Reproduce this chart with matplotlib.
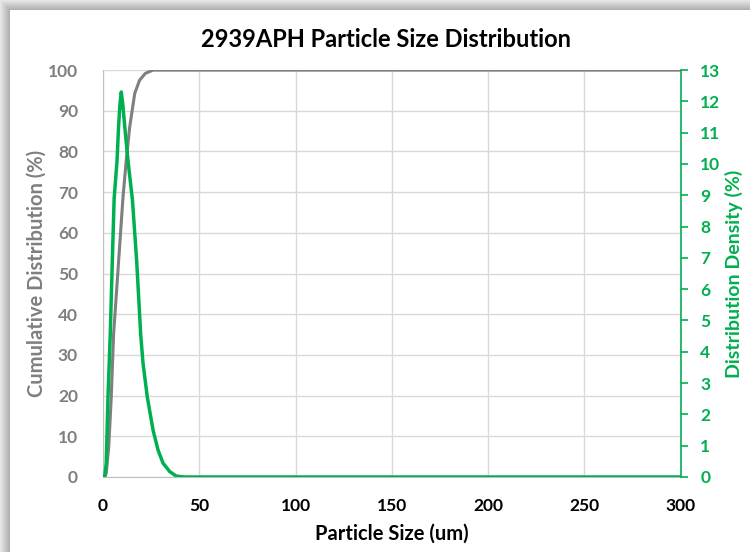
import numpy as np
import matplotlib
matplotlib.use("Agg")
import matplotlib.pyplot as plt
from matplotlib.patches import Rectangle

# ---- data ----
size_cum = [0, 1.0, 1.7, 3.0, 4.3, 5.5, 8.1, 10.4, 12.1, 13.9, 16.5, 19.0, 22.0, 26.0, 30.0, 300]
cumulative = [0, 0, 1.0, 7.4, 19.7, 34.9, 52.9, 68.8, 77.9, 86.1, 94.3, 97.5, 99.2, 100, 100, 100]

size_den = [0, 1.0, 1.7, 2.6, 3.8, 4.8, 5.8, 7.3, 8.1, 8.8, 9.5, 10.3, 11.3, 13.0, 15.3,
            17.5, 19.6, 20.8, 23.0, 26.0, 28.6, 31.2, 34.7, 38.0, 42.0, 300]
density = [0, 0.05, 0.44, 2.56, 4.6, 6.8, 8.9, 10.1, 11.2, 11.9, 12.3, 11.9, 11.2, 10.1, 8.85,
           6.9, 4.54, 3.63, 2.56, 1.5, 0.86, 0.44, 0.17, 0.03, 0, 0]

x_ticks = [0, 50, 100, 150, 200, 250, 300]
left_ticks = list(range(0, 101, 10))
right_ticks = list(range(0, 14))

title = "2939APH Particle Size Distribution"
xlabel = "Particle Size (um)"
ylabel_left = "Cumulative Distribution (%)"
ylabel_right = "Distribution Density (%)"

GRAY = "#7f7f7f"
GREEN = "#00b050"
FONT = ["Lato", "DejaVu Sans"]

plt.rcParams["font.family"] = FONT

fig = plt.figure(figsize=(7.5, 5.52), dpi=100)

# shadow border (top and left)
bg = fig.add_axes([0, 0, 1, 1], zorder=-10)
bg.set_xlim(0, 750)
bg.set_ylim(552, 0)
bg.axis("off")
shades = ["#e6e6e6", "#e0e0e0", "#dadada", "#d4d4d4", "#cecece", "#c8c8c8",
          "#c2c2c2", "#bcbcbc", "#b6b6b6", "#b0b0b0"]
for i, c in enumerate(shades):
    bg.add_patch(Rectangle((i, i), 750, 1, color=c, lw=0))
    bg.add_patch(Rectangle((i, i), 1, 552, color=c, lw=0))

ax = fig.add_axes([0.1373, 0.1359, 0.7703, 0.7371])
ax2 = ax.twinx()

ax.plot(size_cum, cumulative, color=GRAY, lw=2.2, solid_capstyle="round",
        solid_joinstyle="round", zorder=3)
ax2.plot(size_den, density, color=GREEN, lw=2.5, solid_capstyle="round",
         solid_joinstyle="round", zorder=3)

ax.set_xlim(0, 300)
ax.set_ylim(0, 100)
ax2.set_ylim(0, 13)
ax.set_xticks(x_ticks)
ax.set_yticks(left_ticks)
ax2.set_yticks(right_ticks)

ax.grid(True, color="#d9d9d9", lw=1.0)
ax.set_axisbelow(True)

for s in ["top", "right"]:
    ax.spines[s].set_visible(False)
ax.spines["left"].set_color("#bfbfbf")
ax.spines["bottom"].set_color("#bfbfbf")
for s in ["top", "left", "bottom"]:
    ax2.spines[s].set_visible(False)
ax2.spines["right"].set_color(GREEN)
ax2.spines["right"].set_linewidth(1.2)

ax.tick_params(axis="x", length=0, pad=15, labelsize=12.5, labelcolor="black")
ax.tick_params(axis="y", length=0, pad=18, labelsize=12.5, labelcolor=GRAY)
ax2.tick_params(axis="y", length=5, width=1.2, color=GREEN, direction="out",
                pad=9, labelsize=12.5, labelcolor=GREEN)
for lab in ax.get_xticklabels() + ax.get_yticklabels() + ax2.get_yticklabels():
    lab.set_fontweight("bold")

ax.set_xlabel(xlabel, fontsize=14.5, fontweight="bold", labelpad=7)
ax.set_ylabel(ylabel_left, fontsize=14.5, fontweight="bold", color=GRAY, labelpad=1)
ax2.set_ylabel(ylabel_right, fontsize=14, fontweight="bold", color=GREEN, labelpad=3)
fig.text(0.515, 0.928, title, ha="center", va="center", fontsize=17, fontweight="bold")

fig.savefig("out.png", dpi=100, facecolor="white")
